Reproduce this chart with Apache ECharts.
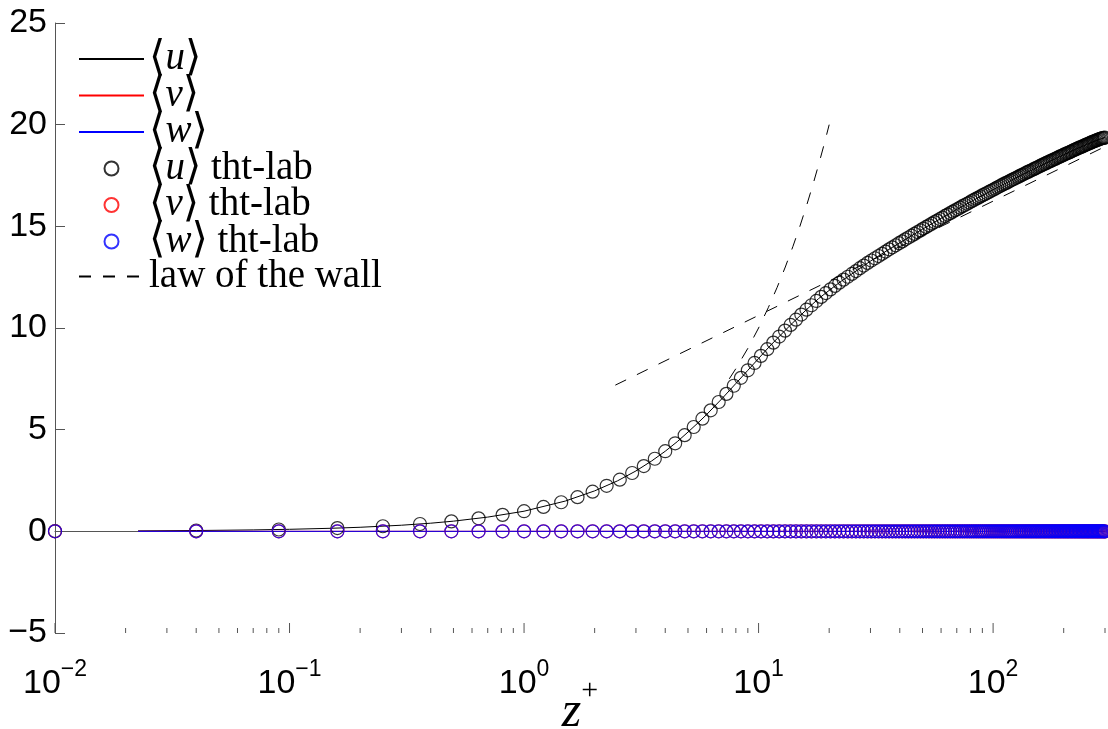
<!DOCTYPE html>
<html>
<head>
<meta charset="utf-8">
<script src="https://cdn.jsdelivr.net/npm/echarts@6/dist/echarts.min.js"></script>
<style>
html,body{margin:0;padding:0;background:#fff;}
#chart{width:1108px;height:729px;}
</style>
</head>
<body>
<div id="chart"></div>
<script>
// ---------- data ----------
const seriesNames = ['⟨u⟩', '⟨v⟩', '⟨w⟩', '⟨u⟩ tht-lab', '⟨v⟩ tht-lab', '⟨w⟩ tht-lab', 'law of the wall'];
const xAxisTitle = ['z', '+'];

// DNS profiles (solid lines)
const zDns = [0.0226,0.04,0.07,0.1,0.15,0.2,0.3,0.4,0.5,0.7,1,1.5,2,2.5,3,3.5,4,4.5,5,5.5,6,7,8,9,10,11,12,13,14,15,16,18,20,22.5,25,30,35,40,50,60,70,80,100,125,150,175,200,225,250,275,300];
const uDns = [0.0226,0.04,0.07,0.1,0.15,0.2,0.3,0.4,0.5,0.7,0.99,1.49,1.99,2.48,2.97,3.46,3.94,4.41,4.88,5.32,5.74,6.54,7.27,7.92,8.50,9.03,9.48,9.89,10.26,10.59,10.90,11.44,11.85,12.30,12.66,13.29,13.78,14.19,14.86,15.39,15.83,16.20,16.80,17.38,17.83,18.20,18.52,18.79,19.02,19.22,19.37];
const zDnsVW = [0.0226, 300];
const vDns = [0, 0];
const wDns = [0, 0];

// tht-lab profiles (circles)
const zTht = [0.01,0.04,0.09,0.16,0.25,0.36,0.49,0.64,0.81,1,1.21,1.44,1.69,1.96,2.25,2.56,2.89,3.24,3.61,4,
4.41,4.84,5.29,5.76,6.25,6.76,7.29,7.84,8.41,9,9.61,10.24,10.89,11.56,12.25,12.96,13.69,14.44,15.21,16,
16.81,17.64,18.49,19.36,20.25,21.16,22.09,23.04,24.01,25,26.01,27.04,28.09,29.16,30.25,31.36,32.49,33.64,34.81,36,
37.21,38.44,39.69,40.96,42.25,43.56,44.89,46.24,47.61,49,50.41,51.84,53.29,54.76,56.25,57.76,59.29,60.84,62.41,64,
65.61,67.24,68.89,70.56,72.25,73.96,75.69,77.44,79.21,81,82.81,84.64,86.49,88.36,90.25,92.16,94.09,96.04,98.01,100,
102.01,104.04,106.09,108.16,110.25,112.36,114.49,116.64,118.81,121,123.21,125.44,127.69,129.96,132.25,134.56,136.89,139.24,141.61,144,
146.41,148.84,151.29,153.76,156.25,158.76,161.29,163.84,166.41,169,171.61,174.24,176.89,179.56,182.25,184.96,187.69,190.44,193.21,196,
198.81,201.64,204.49,207.36,210.25,213.16,216.09,219.04,222.01,225,228.01,231.04,234.09,237.16,240.25,243.36,246.49,249.64,252.81,256,
259.21,262.44,265.69,268.96,272.25,275.56,278.89,282.24,285.61,289,292.41,295.84,299.29];
const uTht = [0.01,0.04,0.09,0.16,0.25,0.36,0.49,0.64,0.81,0.99,1.20,1.43,1.68,1.95,2.24,2.54,2.87,3.21,3.57,3.94,
4.33,4.73,5.13,5.54,5.95,6.36,6.76,7.16,7.55,7.92,8.28,8.63,8.96,9.28,9.58,9.87,10.15,10.41,10.66,10.90,
11.12,11.33,11.53,11.72,11.90,12.07,12.23,12.38,12.52,12.66,12.80,12.94,13.07,13.20,13.32,13.43,13.54,13.65,13.76,13.87,
13.97,14.07,14.17,14.26,14.36,14.45,14.54,14.63,14.72,14.80,14.89,14.97,15.05,15.13,15.21,15.28,15.36,15.43,15.51,15.58,
15.65,15.72,15.79,15.85,15.92,15.99,16.05,16.11,16.17,16.24,16.30,16.36,16.41,16.47,16.53,16.58,16.64,16.69,16.75,16.80,
16.85,16.91,16.96,17.01,17.06,17.11,17.15,17.20,17.25,17.30,17.34,17.39,17.43,17.48,17.52,17.56,17.61,17.65,17.69,17.73,
17.77,17.81,17.85,17.89,17.93,17.97,18.01,18.05,18.08,18.12,18.16,18.19,18.23,18.26,18.30,18.33,18.37,18.40,18.44,18.47,
18.50,18.54,18.57,18.60,18.63,18.66,18.69,18.73,18.76,18.79,18.82,18.85,18.88,18.90,18.93,18.96,18.99,19.02,19.05,19.07,
19.10,19.13,19.16,19.18,19.20,19.23,19.25,19.28,19.30,19.32,19.34,19.35,19.36];
const vTht = [0,0,0,0,0,0,0,0,0,0,0,0,0,0,0,0,0,0,0,0,
0,0,0,0,0,0,0,0,0,0,0,0,0,0,0,0,0,0,0,0,
0,0,0,0,0,0,0,0,0,0,0,0,0,0,0,0,0,0,0,0,
0,0,0,0,0,0,0,0,0,0,0,0,0,0,0,0,0,0,0,0,
0,0,0,0,0,0,0,0,0,0,0,0,0,0,0,0,0,0,0,0,
0,0,0,0,0,0,0,0,0,0,0,0,0,0,0,0,0,0,0,0,
0,0,0,0,0,0,0,0,0,0,0,0,0,0,0,0,0,0,0,0,
0,0,0,0,0,0,0,0,0,0,0,0,0,0,0,0,0,0,0,0,
0,0,0,0,0,0,0,0,0,0,0,0,0];
const wTht = [0,0,0,0,0,0,0,0,0,0,0,0,0,0,0,0,0,0,0,0,
0,0,0,0,0,0,0,0,0,0,0,0,0,0,0,0,0,0,0,0,
0,0,0,0,0,0,0,0,0,0,0,0,0,0,0,0,0,0,0,0,
0,0,0,0,0,0,0,0,0,0,0,0,0,0,0,0,0,0,0,0,
0,0,0,0,0,0,0,0,0,0,0,0,0,0,0,0,0,0,0,0,
0,0,0,0,0,0,0,0,0,0,0,0,0,0,0,0,0,0,0,0,
0,0,0,0,0,0,0,0,0,0,0,0,0,0,0,0,0,0,0,0,
0,0,0,0,0,0,0,0,0,0,0,0,0,0,0,0,0,0,0,0,
0,0,0,0,0,0,0,0,0,0,0,0,0];

// law of the wall (two branches)
const zVisc = [7.5,8,9,10,11,12,13,14,15,16,17,18,19,20];
const uVisc = [7.5,8,9,10,11,12,13,14,15,16,17,18,19,20];
const zLog = [2.45, 300];
const uLog = [7.19, 18.92];

// axes
const xMin = 0.01, xMax = 300;
const yMin = -5, yMax = 25, yStep = 5;
const xMajorTicks = [0.01,0.1,1,10,100];
const xMinorTicks = [0.02,0.03,0.04,0.05,0.06,0.07,0.08,0.09,0.2,0.3,0.4,0.5,0.6,0.7,0.8,0.9,2,3,4,5,6,7,8,9,20,30,40,50,60,70,80,90,200,300];

// ---------- chart ----------
const pair = (xs, ys) => xs.map((x, i) => [x, ys[i]]);
const tickData = xMajorTicks.map(v => [v, 1]).concat(xMinorTicks.map(v => [v, 0]));

const serifFont = 'Liberation Serif';
const legendRich = {
  n:  {fontFamily: serifFont, fontSize: 39, color: '#000', lineHeight: 30},
  it: {fontFamily: serifFont, fontStyle: 'italic', fontSize: 39, color: '#000', lineHeight: 30},
  br: {fontFamily: 'DejaVu Sans', fontSize: 42, color: '#000', lineHeight: 30}
};
function legendFmt(name) {
  const m = name.match(/^⟨(\w)⟩(.*)$/);
  if (m) return '{br|⟨}{it|' + m[1] + '}{br|⟩}' + (m[2] ? '{n|' + m[2] + '}' : '');
  return '{n|' + name + '}';
}
const lineLegend = new Set([seriesNames[0], seriesNames[1], seriesNames[2], seriesNames[6]]);
const legendData = seriesNames.map(n => lineLegend.has(n) ? {name: n, itemStyle: {opacity: 0}} : {name: n});

const lineBase = {type: 'line', symbol: 'none', animation: false, silent: true, lineStyle: {width: 1}};
const circBase = {type: 'scatter', symbol: 'circle', symbolSize: 13, animation: false, silent: true, clip: false};

const option = {
  backgroundColor: '#fff',
  animation: false,
  grid: {left: 55, right: 3, top: 23, bottom: 96, outerBoundsMode: 'none', containLabel: false},
  legend: {
    orient: 'vertical', left: 78, top: 38, padding: 0,
    itemWidth: 65, itemHeight: 14, itemGap: -5.5,
    data: legendData,
    formatter: legendFmt,
    textStyle: {rich: legendRich, lineHeight: 30},
    selectedMode: false
  },
  xAxis: {
    type: 'log', logBase: 10, min: xMin, max: xMax,
    axisLine: {show: true, lineStyle: {color: '#555', width: 1}},
    axisTick: {show: false},
    minorTick: {show: false},
    splitLine: {show: false},
    axisLabel: {
      margin: 25,
      formatter: function (v) {
        const e = Math.log10(v), r = Math.round(e);
        if (Math.abs(e - r) > 1e-6) return '';
        return '{b|10}{s|' + (r < 0 ? '−' + (-r) : '' + r) + '}';
      },
      rich: {
        b: {fontFamily: 'Liberation Sans', fontSize: 34, color: '#000', lineHeight: 34, padding: [17, 0, 0, 0]},
        s: {fontFamily: 'Liberation Sans', fontSize: 23, color: '#000', lineHeight: 23, verticalAlign: 'top'}
      }
    },
    name: '{z|' + xAxisTitle[0] + '}{p|' + xAxisTitle[1] + '}',
    nameLocation: 'middle', nameGap: 43, nameMoveOverlap: false,
    nameTextStyle: {
      rich: {
        z: {fontFamily: serifFont, fontStyle: 'italic', fontSize: 50, color: '#000', lineHeight: 44, padding: [30, 0, 0, 0]},
        p: {fontFamily: serifFont, fontSize: 30, color: '#000', lineHeight: 30, verticalAlign: 'top'}
      }
    }
  },
  yAxis: {
    type: 'value', min: yMin, max: yMax, interval: yStep,
    axisLine: {show: true, lineStyle: {color: '#555', width: 1}},
    axisTick: {show: true, inside: true, length: 10, lineStyle: {color: '#555'}},
    splitLine: {show: false},
    axisLabel: {
      margin: 8, fontFamily: 'Liberation Sans', fontSize: 34, color: '#000',
      formatter: v => (v < 0 ? '−' + (-v) : '' + v)
    }
  },
  series: [
    Object.assign({}, lineBase, {name: seriesNames[0], data: pair(zDns, uDns), color: '#000', lineStyle: {width: 1, color: '#000'}, z: 2}),
    Object.assign({}, lineBase, {name: seriesNames[1], data: pair(zDnsVW, vDns), color: '#ff0000', lineStyle: {width: 1, color: '#ff0000'}, z: 2}),
    Object.assign({}, lineBase, {name: seriesNames[2], data: pair(zDnsVW, wDns), color: '#0000ff', lineStyle: {width: 1, color: '#0000ff'}, z: 2}),
    Object.assign({}, circBase, {name: seriesNames[3], data: pair(zTht, uTht), itemStyle: {color: 'rgba(0,0,0,0)', borderColor: '#000', borderWidth: 1.2}, z: 3}),
    Object.assign({}, circBase, {name: seriesNames[4], data: pair(zTht, vTht), itemStyle: {color: 'rgba(0,0,0,0)', borderColor: '#ff0000', borderWidth: 1.2}, z: 3}),
    Object.assign({}, circBase, {name: seriesNames[5], data: pair(zTht, wTht), itemStyle: {color: 'rgba(0,0,0,0)', borderColor: '#0000ff', borderWidth: 1.2}, z: 3}),
    Object.assign({}, lineBase, {name: seriesNames[6], data: pair(zVisc, uVisc), color: '#000', lineStyle: {width: 1, color: '#000', type: [12, 12]}, z: 4}),
    Object.assign({}, lineBase, {name: seriesNames[6], data: pair(zLog, uLog), color: '#000', lineStyle: {width: 1, color: '#000', type: [12, 12]}, z: 4}),
    {
      type: 'custom', name: 'xticks', silent: true, animation: false, z: 5,
      data: tickData,
      renderItem: function (params, api) {
        const p = api.coord([api.value(0), yMin]);
        const len = api.value(1) ? 10 : 5;
        return {type: 'line', shape: {x1: p[0], y1: p[1], x2: p[0], y2: p[1] - len}, style: {stroke: '#555', lineWidth: 1}};
      }
    }
  ]
};
const chart = echarts.init(document.getElementById('chart'), null, {renderer: 'canvas'});
chart.setOption(option);
</script>
</body>
</html>
